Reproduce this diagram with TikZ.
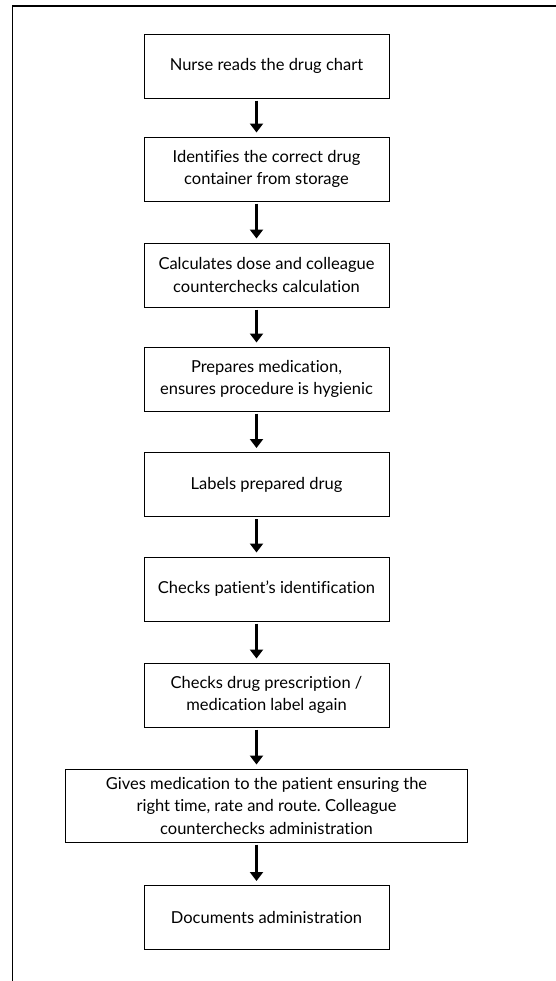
\documentclass[tikz,border=0pt]{standalone}
\usepackage{fontspec}
\setmainfont[Ligatures={NoCommon}]{Lato}
\usepackage{tikz}
\usetikzlibrary{positioning,arrows.meta}
\frenchspacing

\begin{document}
\begin{tikzpicture}[x=1bp,y=-1bp,
  stepbox/.style={draw=black, line width=1bp, minimum width=245bp, minimum height=64bp,
    align=center, inner sep=0pt, font=\fontsize{16.5bp}{22.5bp}\selectfont},
  widebox/.style={stepbox, minimum width=401bp, minimum height=73bp},
  down/.style={line width=2.2bp, -{Triangle[width=13bp,length=9bp]}}]
\useasboundingbox (0,0) rectangle (556,981);
\draw[line width=1.6bp] (12.5,982) -- (12.5,6) -- (557,6);
\node[stepbox] (s1) at (266.5,66) {Nurse reads the drug chart};
\node[stepbox] (s2) at (266.5,169) {Identifies the correct drug\\container from storage};
\node[stepbox] (s3) at (266.5,275) {Calculates dose and colleague\\counterchecks calculation};
\node[stepbox] (s4) at (266.5,379) {Prepares medication,\\ensures procedure is hygienic};
\node[stepbox] (s5) at (266.5,484.5) {Labels prepared drug};
\node[stepbox] (s6) at (266.5,589) {Checks patient’s identification};
\node[stepbox] (s7) at (266.5,695) {Checks drug prescription /\\medication label again};
\node[widebox] (s8) at (266.5,805.5) {Gives medication to the patient ensuring the\\right time, rate and route. Colleague\\counterchecks administration};
\node[stepbox] (s9) at (266.5,917.5) {Documents administration};
\foreach \a/\b in {s1/s2,s2/s3,s3/s4,s4/s5,s5/s6,s6/s7,s7/s8,s8/s9}
  \draw[down] ([xshift=-10bp,yshift=-2bp]\a.south) -- ([xshift=-10bp,yshift=4bp]\b.north);
\end{tikzpicture}
\end{document}
